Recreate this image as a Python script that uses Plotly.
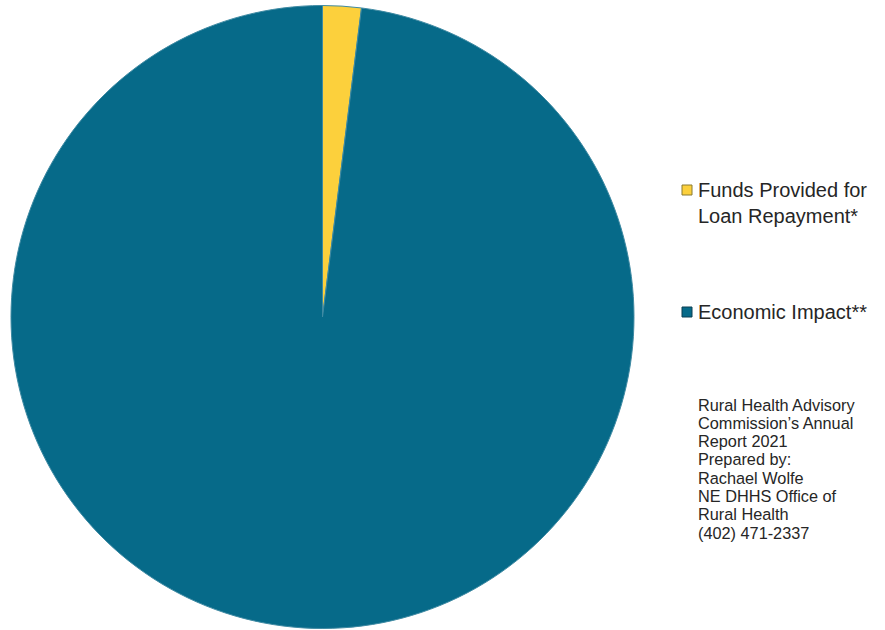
import plotly.graph_objects as go

# Share of total: loan repayment funds vs. economic impact
labels = ["Funds Provided for Loan Repayment*", "Economic Impact**"]
values = [2.0, 98.0]
colors = ["#fcd03c", "#066a89"]

legend_text = ["Funds Provided for<br>Loan Repayment*", "Economic Impact**"]
legend_y = [190, 312]  # pixel rows of the legend entries

note_lines = [
    "Rural Health Advisory",
    "Commission’s Annual",
    "Report 2021",
    "Prepared by:",
    "Rachael Wolfe",
    "NE DHHS Office of",
    "Rural Health",
    "(402) 471-2337",
]

W, H = 885, 630

fig = go.Figure(
    go.Pie(
        labels=labels,
        values=values,
        sort=False,
        direction="clockwise",
        rotation=0,
        textinfo="none",
        hoverinfo="label+percent",
        marker=dict(colors=colors, line=dict(color="#3f8aa3", width=1)),
        domain=dict(x=[11 / W, 634 / W], y=[1 - 629 / H, 1 - 5 / H]),
        showlegend=False,
    )
)

shapes = []
annotations = []
for txt, col, py in zip(legend_text, colors, legend_y):
    shapes.append(
        dict(
            type="rect", xref="paper", yref="paper",
            x0=682 / W, x1=692 / W,
            y0=1 - (py - 5) / H, y1=1 - (py + 5) / H,
            fillcolor=col, line=dict(color="#8a7a30" if col == colors[0] else "#0a3f52", width=1),
        )
    )
    annotations.append(
        dict(
            text=txt, xref="paper", yref="paper",
            x=696 / W, y=1 - (py - 13) / H,
            xanchor="left", yanchor="top", align="left", showarrow=False,
            font=dict(family="Liberation Sans, Arial", size=20, color="#262626"),
        )
    )

# Source note, one line per annotation for tight line spacing
for i, line in enumerate(note_lines):
    baseline = 410 + 18.3 * i
    annotations.append(
        dict(
            text=line, xref="paper", yref="paper",
            x=696 / W, y=1 - (baseline - 5.5) / H,
            xanchor="left", yanchor="middle", align="left", showarrow=False,
            font=dict(family="Liberation Sans, Arial", size=16.3, color="#262626"),
        )
    )

fig.update_layout(
    width=W, height=H,
    margin=dict(l=0, r=0, t=0, b=0),
    paper_bgcolor="white",
    plot_bgcolor="white",
    shapes=shapes,
    annotations=annotations,
)

fig.write_html("out.html")
